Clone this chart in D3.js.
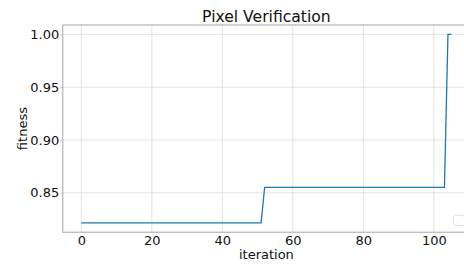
<!DOCTYPE html>
<html>
<head>
<meta charset="utf-8">
<script src="https://cdn.jsdelivr.net/npm/d3@7"></script>
<style>
  html, body { margin: 0; padding: 0; background: #fff; }
  svg { display: block; font-family: "DejaVu Sans", sans-serif; }
</style>
</head>
<body>
<svg id="chart" width="464" height="264"></svg>
<script>
const title = "Pixel Verification";
const xLabel = "iteration";
const yLabel = "fitness";
const iterations = [0, 51, 52, 103, 104, 105];
const fitness = [0.8216, 0.8216, 0.8551, 0.8551, 1.0, 1.0];
const xTicks = [0, 20, 40, 60, 80, 100];
const yTicks = [0.85, 0.90, 0.95, 1.00];

const svg = d3.select("#chart");
const mLeft = 62.8, mRight = 470, mTop = 25, mBottom = 232.2;

const xMin = d3.min(iterations), xMax = d3.max(iterations);
const xPad = (xMax - xMin) * 0.05;
const x = d3.scaleLinear().domain([xMin - xPad, xMax + xPad]).range([mLeft, mRight]);
const yMin = d3.min(fitness), yMax = d3.max(fitness);
const yPad = (yMax - yMin) * 0.05;
const y = d3.scaleLinear().domain([yMin - yPad, yMax + yPad]).range([mBottom, mTop]);

// grid
const grid = svg.append("g");
grid.selectAll(".gx").data(xTicks).enter().append("line")
  .attr("x1", d => x(d)).attr("x2", d => x(d))
  .attr("y1", mTop).attr("y2", mBottom)
  .attr("stroke", "#dcdcdc").attr("stroke-width", 0.8);
grid.selectAll(".gy").data(yTicks).enter().append("line")
  .attr("x1", mLeft).attr("x2", mRight)
  .attr("y1", d => y(d)).attr("y2", d => y(d))
  .attr("stroke", "#dcdcdc").attr("stroke-width", 0.8);

// axes
const xAxis = d3.axisBottom(x).tickValues(xTicks).tickFormat(d3.format("d")).tickSize(0).tickPadding(3.6);
const yAxis = d3.axisLeft(y).tickValues(yTicks).tickFormat(d3.format(".2f")).tickSize(2.5).tickPadding(1);

const gx = svg.append("g").attr("transform", `translate(0,${mBottom})`).call(xAxis);
const gy = svg.append("g").attr("transform", `translate(${mLeft},0)`).call(yAxis);
[gx, gy].forEach(g => {
  g.select(".domain").remove();
  g.selectAll("text").attr("font-size", 13).attr("fill", "#111").attr("font-family", "DejaVu Sans");
  g.selectAll("line").attr("stroke", "#ccc");
});

// spines
svg.append("rect").attr("x", mLeft).attr("y", mTop)
  .attr("width", mRight - mLeft).attr("height", mBottom - mTop)
  .attr("fill", "none").attr("stroke", "#a6a6a6").attr("stroke-width", 1);

// line
const line = d3.line().x((d, i) => x(iterations[i])).y(d => y(d));
svg.append("path").datum(fitness)
  .attr("d", line)
  .attr("fill", "none").attr("stroke", "#1f77b4").attr("stroke-width", 1.3);

// empty legend box
svg.append("rect").attr("x", 453.5).attr("y", 215.5).attr("width", 11).attr("height", 10)
  .attr("rx", 2).attr("fill", "#fff").attr("stroke", "#e0e0e0").attr("stroke-width", 1);

// title and labels
svg.append("text").attr("x", (mLeft + mRight) / 2).attr("y", 21.8)
  .attr("text-anchor", "middle").attr("font-size", 15.6).attr("fill", "#111").text(title);
svg.append("text").attr("x", (mLeft + mRight) / 2).attr("y", 259.3)
  .attr("text-anchor", "middle").attr("font-size", 13).attr("fill", "#111").text(xLabel);
svg.append("text").attr("transform", `translate(26.5,${(mTop + mBottom) / 2}) rotate(-90)`)
  .attr("text-anchor", "middle").attr("font-size", 13).attr("fill", "#111").text(yLabel);
</script>
</body>
</html>
